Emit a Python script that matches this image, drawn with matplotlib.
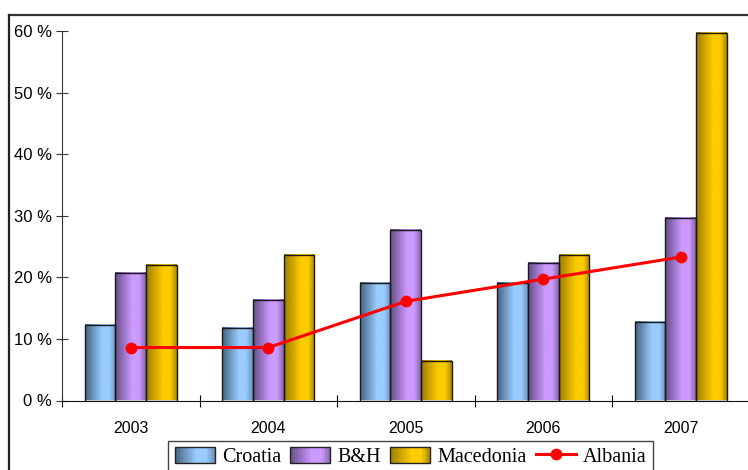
import matplotlib.pyplot as plt
import numpy as np
from matplotlib.colors import LinearSegmentedColormap
from matplotlib.legend_handler import HandlerBase
from matplotlib.lines import Line2D
from matplotlib.patches import Patch, Rectangle
from matplotlib.ticker import FixedLocator, FuncFormatter


# Data (% values per year)
years = ["2003", "2004", "2005", "2006", "2007"]
croatia = [12.2, 11.7, 19.1, 19.0, 12.7]
bh = [20.7, 16.3, 27.7, 22.3, 29.7]
macedonia = [22.0, 23.7, 6.4, 23.7, 59.7]
albania = [8.6, 8.6, 16.1, 19.7, 23.3]


# metallic looking horizontal gradients for the bars
def shade(name, dark, light, edge):
    return LinearSegmentedColormap.from_list(
        name, [(0, dark), (0.55, light), (0.78, light), (1, edge)])

cm_cro = shade("cro", "#45627f", "#99ccff", "#6d93ba")
cm_bh = shade("bh", "#664c85", "#cc99ff", "#8566a8")
cm_mac = shade("mac", "#9c7d00", "#ffcc00", "#a88700")


class GradientHandler(HandlerBase):
    def __init__(self, cmap):
        super().__init__()
        self.cmap = cmap

    def create_artists(self, legend, orig_handle, xdescent, ydescent,
                       width, height, fontsize, trans):
        n = 30
        arts = []
        for i in range(n):
            r = Rectangle((-xdescent + width * i / n, -ydescent), width / n * 1.1, height,
                          facecolor=self.cmap((i + 0.5) / n), edgecolor="none",
                          antialiased=False, transform=trans)
            arts.append(r)
        arts.append(Rectangle((-xdescent, -ydescent), width, height, fill=False,
                              edgecolor="#222222", lw=1, transform=trans))
        return arts


plt.rcParams["font.family"] = ["Liberation Sans", "DejaVu Sans"]

fig = plt.figure(figsize=(7.48, 4.70), dpi=100)
W, H = 748, 470
ax = fig.add_axes([62 / W, 69.5 / H, 687.5 / W, 369.5 / H])

x = np.arange(len(years))
bw = 0.222
grad = np.linspace(0, 1, 256).reshape(1, -1)

for off, vals, cmap in [(-bw, croatia, cm_cro), (0, bh, cm_bh), (bw, macedonia, cm_mac)]:
    bars = ax.bar(x + off, vals, bw, facecolor="none", edgecolor="#1a1a1a",
                  linewidth=1, zorder=3)
    for b in bars:
        x0, w, h = b.get_x(), b.get_width(), b.get_height()
        ax.imshow(grad, extent=(x0, x0 + w, 0, h), aspect="auto", cmap=cmap,
                  interpolation="bilinear", zorder=2)

ax.plot(x, albania, color="#ff0000", lw=2.2, marker="o", markersize=7.5, zorder=5)

ax.set_xlim(-0.5, 4.5)
ax.set_ylim(0, 60)

ax.spines["top"].set_visible(False)
ax.spines["right"].set_visible(False)
ax.spines["left"].set_color("#333333")
ax.spines["bottom"].set_color("#111111")

ax.yaxis.set_major_locator(FixedLocator(range(0, 61, 10)))
ax.yaxis.set_major_formatter(FuncFormatter(lambda v, p: f"{int(v)} %"))
ax.tick_params(axis="y", direction="inout", length=8.5, width=0.8, color="#333333",
               labelsize=12, pad=3)

# category boundaries carry the ticks, the year labels sit in between
ax.set_xticks(np.arange(-0.5, 5, 1))
ax.set_xticklabels([])
ax.set_xticks(x, minor=True)
ax.set_xticklabels(years, minor=True)
ax.tick_params(axis="x", which="major", direction="inout", length=8, width=0.8)
ax.tick_params(axis="x", which="minor", length=0, labelsize=11.5, pad=15)

# frame around the chart
fig.add_artist(Line2D([8.5 / W, 1], [1 - 14.5 / H, 1 - 14.5 / H], color="#333333",
                      lw=1.6, transform=fig.transFigure))
fig.add_artist(Line2D([8.5 / W, 8.5 / W], [0, 1 - 14.5 / H], color="#222222",
                      lw=1.6, transform=fig.transFigure))

h_cro = Patch(label="Croatia")
h_bh = Patch(label="B&H")
h_mac = Patch(label="Macedonia")
h_alb = Line2D([], [], color="#ff0000", lw=2.2, marker="o", markersize=7.5, label="Albania")

leg = fig.legend(handles=[h_cro, h_bh, h_mac, h_alb], ncol=4, loc="upper center",
                 bbox_to_anchor=(410.5 / W, 1 - 440.5 / H), bbox_transform=fig.transFigure,
                 prop={"family": ["Liberation Serif"], "size": 14.5},
                 handler_map={h_cro: GradientHandler(cm_cro), h_bh: GradientHandler(cm_bh),
                              h_mac: GradientHandler(cm_mac)},
                 handlelength=2.0, handleheight=0.9, handletextpad=0.35,
                 columnspacing=0.45, borderpad=0.3, borderaxespad=0,
                 fancybox=False, framealpha=1, edgecolor="#444444")
leg.get_frame().set_linewidth(1)

fig.savefig("out.png", dpi=100)
